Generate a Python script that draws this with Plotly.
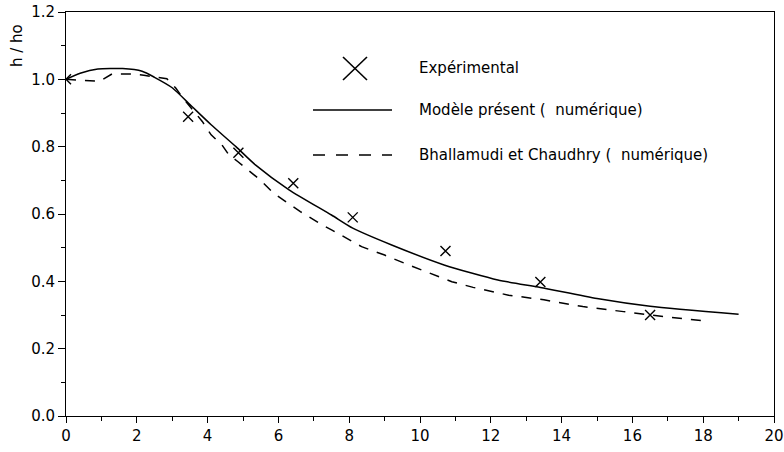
import plotly.graph_objects as go

# ---- data ----
exp_name = "Expérimental"
exp_x = [0.0, 3.45, 4.87, 6.42, 8.1, 10.72, 13.4, 16.5]
exp_y = [1.0, 0.889, 0.782, 0.691, 0.59, 0.49, 0.398, 0.30]

model_name = "Modèle présent (  numérique)"
model_x = [0.0, 0.4, 0.9, 1.6, 2.15, 2.5, 3.0, 3.55, 4.1, 4.8, 5.35, 6.3,
           7.5, 8.1, 9.2, 10.7, 12.2, 13.4, 15.0, 16.5, 19.0]
model_y = [1.0, 1.018, 1.031, 1.032, 1.024, 1.006, 0.975, 0.92, 0.865, 0.80,
           0.746, 0.672, 0.597, 0.558, 0.508, 0.448, 0.404, 0.382, 0.349,
           0.326, 0.302]

bc_name = "Bhallamudi et Chaudhry (  numérique)"
bc_x = [0.0, 0.65, 0.95, 1.3, 1.85, 2.2, 2.85, 3.1, 3.3, 3.85, 4.1, 4.4,
        4.6, 4.85, 5.5, 5.86, 6.62, 7.23, 7.5, 8.35, 9.0, 9.6, 10.25, 10.9,
        11.5, 12.5, 13.5, 14.6, 15.75, 16.9, 18.0]
bc_y = [1.0, 0.996, 0.994, 1.016, 1.016, 1.012, 1.002, 0.974, 0.945, 0.875,
        0.835, 0.806, 0.776, 0.756, 0.70, 0.662, 0.607, 0.568, 0.553, 0.503,
        0.478, 0.452, 0.426, 0.399, 0.382, 0.359, 0.345, 0.325, 0.31, 0.295,
        0.283]

x_ticks = [0, 2, 4, 6, 8, 10, 12, 14, 16, 18, 20]
y_ticks = [0.0, 0.2, 0.4, 0.6, 0.8, 1.0, 1.2]
y_title = "h / ho"

FONT = "DejaVu Sans, Liberation Sans, Arial, sans-serif"
FS = 15

fig = go.Figure()
fig.add_trace(go.Scatter(x=model_x, y=model_y, mode="lines", name=model_name,
                         line=dict(color="black", width=1.5, shape="spline",
                                   smoothing=0.6)))
fig.add_trace(go.Scatter(x=bc_x, y=bc_y, mode="lines", name=bc_name,
                         line=dict(color="black", width=1.5, dash="10px,9px")))
fig.add_trace(go.Scatter(x=exp_x, y=exp_y, mode="markers", name=exp_name,
                         marker=dict(symbol="x-thin-open", size=10,
                                     line=dict(color="black", width=1.4),
                                     color="black")))

W, H = 784, 452
ML, MR, MT, MB = 66, 10, 12, 36
pw, ph = W - ML - MR, H - MT - MB


def px(x):
    return (x - ML) / pw


def py(y):
    return (H - MB - y) / ph


shapes = [
    # legend cross
    dict(type="line", xref="paper", yref="paper", x0=px(343), y0=py(57),
         x1=px(367), y1=py(80), line=dict(color="black", width=1.6)),
    dict(type="line", xref="paper", yref="paper", x0=px(343), y0=py(80),
         x1=px(367), y1=py(57), line=dict(color="black", width=1.6)),
    # legend solid line
    dict(type="line", xref="paper", yref="paper", x0=px(313), y0=py(110),
         x1=px(392), y1=py(110), line=dict(color="black", width=1.5)),
    # legend dashed line
    dict(type="line", xref="paper", yref="paper", x0=px(313), y0=py(155),
         x1=px(392), y1=py(155),
         line=dict(color="black", width=1.5, dash="12px,11px")),
]

annotations = []
for name, yy in [(exp_name, 68), (model_name, 110), (bc_name, 155)]:
    annotations.append(dict(text=name, xref="paper", yref="paper",
                            x=px(417), y=py(yy), xanchor="left",
                            yanchor="middle", showarrow=False,
                            font=dict(family=FONT, size=FS, color="black")))
annotations.append(dict(text=y_title, xref="paper", yref="paper",
                        x=px(17), y=py(46), xanchor="center",
                        yanchor="middle", textangle=-90, showarrow=False,
                        font=dict(family=FONT, size=FS, color="black")))

fig.update_layout(
    width=W, height=H,
    margin=dict(l=ML, r=MR, t=MT, b=MB, pad=0),
    paper_bgcolor="white", plot_bgcolor="white",
    showlegend=False,
    font=dict(family=FONT, size=FS, color="black"),
    shapes=shapes, annotations=annotations,
    xaxis=dict(range=[0, 20], tickvals=x_ticks,
               ticktext=[str(v) for v in x_ticks], automargin=False,
               showgrid=False, zeroline=False, showline=True,
               linecolor="black", linewidth=1, mirror=True,
               ticks="outside", ticklen=6, tickwidth=1, tickcolor="black",
               minor=dict(dtick=1, ticks="outside", ticklen=4,
                          tickcolor="black", tickwidth=1, showgrid=False),
               tickfont=dict(family=FONT, size=FS)),
    yaxis=dict(range=[0, 1.2], tickvals=y_ticks,
               ticktext=[f"{v:.1f}" for v in y_ticks], automargin=False,
               showgrid=False, zeroline=False, showline=True,
               linecolor="black", linewidth=1, mirror=True,
               ticks="outside", ticklen=7, tickwidth=1, tickcolor="black",
               minor=dict(dtick=0.1, ticks="outside", ticklen=4,
                          tickcolor="black", tickwidth=1, showgrid=False),
               tickfont=dict(family=FONT, size=FS)),
)

fig.write_html("out.html",
               config={"displayModeBar": False},
               post_script="document.body.style.margin='0';"
                           "document.body.style.overflow='hidden';")
